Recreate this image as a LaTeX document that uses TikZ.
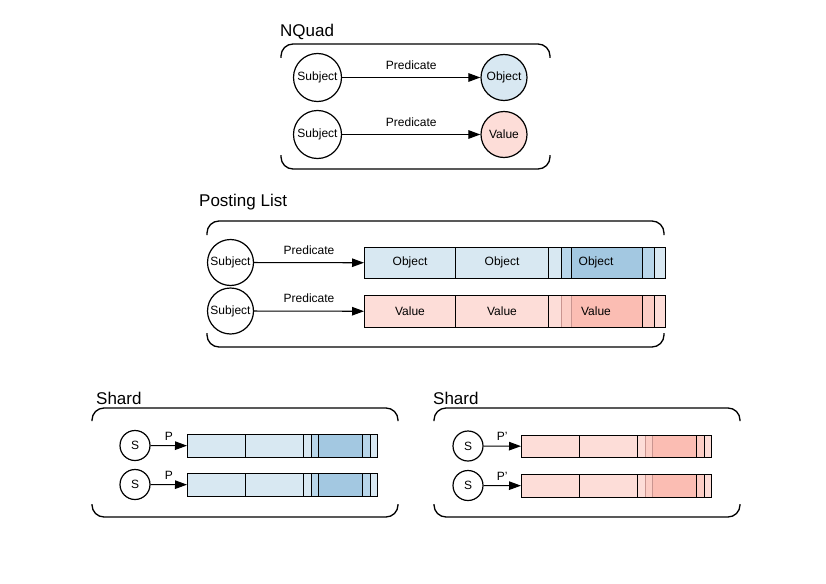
\documentclass[tikz,border=0pt]{standalone}
\usepackage{fontspec}
\setmainfont{Liberation Sans}
\usetikzlibrary{arrows.meta,shapes.geometric}
\definecolor{bL}{HTML}{D8E8F2}
\definecolor{bM}{HTML}{B8D6EA}
\definecolor{bD}{HTML}{A3C8E1}
\definecolor{rL}{HTML}{FDDDD8}
\definecolor{rM}{HTML}{FCCDC5}
\definecolor{rD}{HTML}{FBBDB3}
\definecolor{rLine}{HTML}{C99590}
\definecolor{bLine}{HTML}{000000}
% #1 name, #2 x, #3 y(top), #4 width, #5 height, #6 palette (b/r), #7 inner line colour
\newcommand\cellbar[7]{%
  \pgfmathsetmacro\cbA{#2+0.3056*#4}%
  \pgfmathsetmacro\cbB{#2+0.6113*#4}%
  \pgfmathsetmacro\cbC{#2+0.6545*#4}%
  \pgfmathsetmacro\cbD{#2+0.6910*#4}%
  \pgfmathsetmacro\cbE{#2+0.9236*#4}%
  \pgfmathsetmacro\cbF{#2+0.9635*#4}%
  \pgfmathsetmacro\cbR{#2+#4}%
  \pgfmathsetmacro\cbY{#3+#5}%
  \fill[#6L] (#2,#3) rectangle (\cbR,\cbY);
  \fill[#6M] (\cbC,#3) rectangle (\cbD,\cbY);
  \fill[#6D] (\cbD,#3) rectangle (\cbE,\cbY);
  \fill[#6M] (\cbE,#3) rectangle (\cbF,\cbY);
  \draw[divline] (\cbA,#3) -- (\cbA,\cbY);
  \draw[divline] (\cbB,#3) -- (\cbB,\cbY);
  \draw[divline,#7] (\cbC,#3) -- (\cbC,\cbY);
  \draw[divline,#7] (\cbD,#3) -- (\cbD,\cbY);
  \draw[divline] (\cbE,#3) -- (\cbE,\cbY);
  \draw[divline] (\cbF,#3) -- (\cbF,\cbY);
  \node[draw, line width=1pt, inner sep=0pt, minimum width=#4pt, minimum height=#5pt, anchor=north west] (#1) at (#2,#3) {};
}
\begin{document}
\begin{tikzpicture}[x=1pt,y=-1pt,
  title/.style={font=\fontsize{17}{20}\selectfont, inner sep=0pt, anchor=west},
  lbl/.style={font=\fontsize{12}{14}\selectfont, inner sep=0pt},
  brk/.style={line width=1.3pt, rounded corners=12pt},
  circ/.style={draw, circle, line width=1.2pt, inner sep=0pt, font=\fontsize{12}{14}\selectfont},
  arr/.style={-{Triangle[length=12pt,width=8.5pt]}, line width=1.1pt},
  divline/.style={line width=1pt}]
\useasboundingbox (0,0) rectangle (826,583);
\fill[white] (0,0) rectangle (826,583);

% ---------------- NQuad ----------------
\node[title] (tnq) at (280,32) {NQuad};
\draw[brk] (281,58) -- (281,44) -- (550,44) -- (550,58);
\draw[brk] (281,155) -- (281,169) -- (550,169) -- (550,155);
\node[circ, minimum size=48pt] (nqs1) at (317.5,77.5) {Subject};
\node[circ, minimum size=46pt, fill=bL] (nqo1) at (504,77.5) {Object};
\node[circ, minimum size=48pt] (nqs2) at (317.5,134.5) {Subject};
\node[circ, minimum size=46pt, fill=rL] (nqv2) at (504,134.5) {Value};
\draw[arr] (nqs1) -- node[lbl, above=7.5pt] (nqp1) {Predicate} (nqo1);
\draw[arr] (nqs2) -- node[lbl, above=7.5pt] (nqp2) {Predicate} (nqv2);

% ---------------- Posting List ----------------
\node[title] (tpl) at (199,202) {Posting List};
\draw[brk] (207,235) -- (207,221) -- (664,221) -- (664,235);
\draw[brk] (207,333) -- (207,347) -- (664,347) -- (664,333);
\cellbar{plb1}{364}{247}{301}{31}{b}{bLine}
\cellbar{plb2}{364}{295}{301}{32}{r}{rLine}
\node[lbl] (plo1) at (410,262.5) {Object};
\node[lbl] (plo2) at (502,262.5) {Object};
\node[lbl] (plo3) at (596,262.5) {Object};
\node[lbl] (plv1) at (410,311) {Value};
\node[lbl] (plv2) at (502,311) {Value};
\node[lbl] (plv3) at (596,311) {Value};
\node[circ, minimum size=46pt] (pls1) at (230.5,262.5) {Subject};
\node[circ, minimum size=46pt] (pls2) at (230.5,311) {Subject};
\draw[arr] (pls1) -- node[lbl, above=7.5pt] (plp1) {Predicate} (plb1);
\draw[arr] (pls2) -- node[lbl, above=7.5pt] (plp2) {Predicate} (plb2);

% ---------------- Shard (left) ----------------
\node[title] (tsh1) at (96,398) {Shard};
\draw[brk] (92,421) -- (92,408) -- (398,408) -- (398,421);
\draw[brk] (92,504) -- (92,517) -- (398,517) -- (398,504);
\cellbar{sab1}{187}{434}{190}{23}{b}{bLine}
\cellbar{sab2}{187}{473}{190}{23}{b}{bLine}
\node[circ, minimum size=30pt] (sas1) at (135,445.5) {S};
\node[circ, minimum size=30pt] (sas2) at (135,484.5) {S};
\draw[arr] (sas1) -- node[lbl, above=5pt] (sap1) {P} (sab1);
\draw[arr] (sas2) -- node[lbl, above=5pt] (sap2) {P} (sab2);

% ---------------- Shard (right) ----------------
\node[title] (tsh2) at (433,398) {Shard};
\draw[brk] (434,421) -- (434,408) -- (740,408) -- (740,421);
\draw[brk] (434,504) -- (434,517) -- (740,517) -- (740,504);
\cellbar{sbb1}{521}{435}{190}{22}{r}{rLine}
\cellbar{sbb2}{521}{474}{190}{23}{r}{rLine}
\node[circ, minimum size=30pt] (sbs1) at (468,446) {S};
\node[circ, minimum size=30pt] (sbs2) at (468,485.5) {S};
\draw[arr] (sbs1) -- node[lbl, above=5pt] (sbp1) {P'} (sbb1);
\draw[arr] (sbs2) -- node[lbl, above=5pt] (sbp2) {P'} (sbb2);
\end{tikzpicture}
\end{document}
